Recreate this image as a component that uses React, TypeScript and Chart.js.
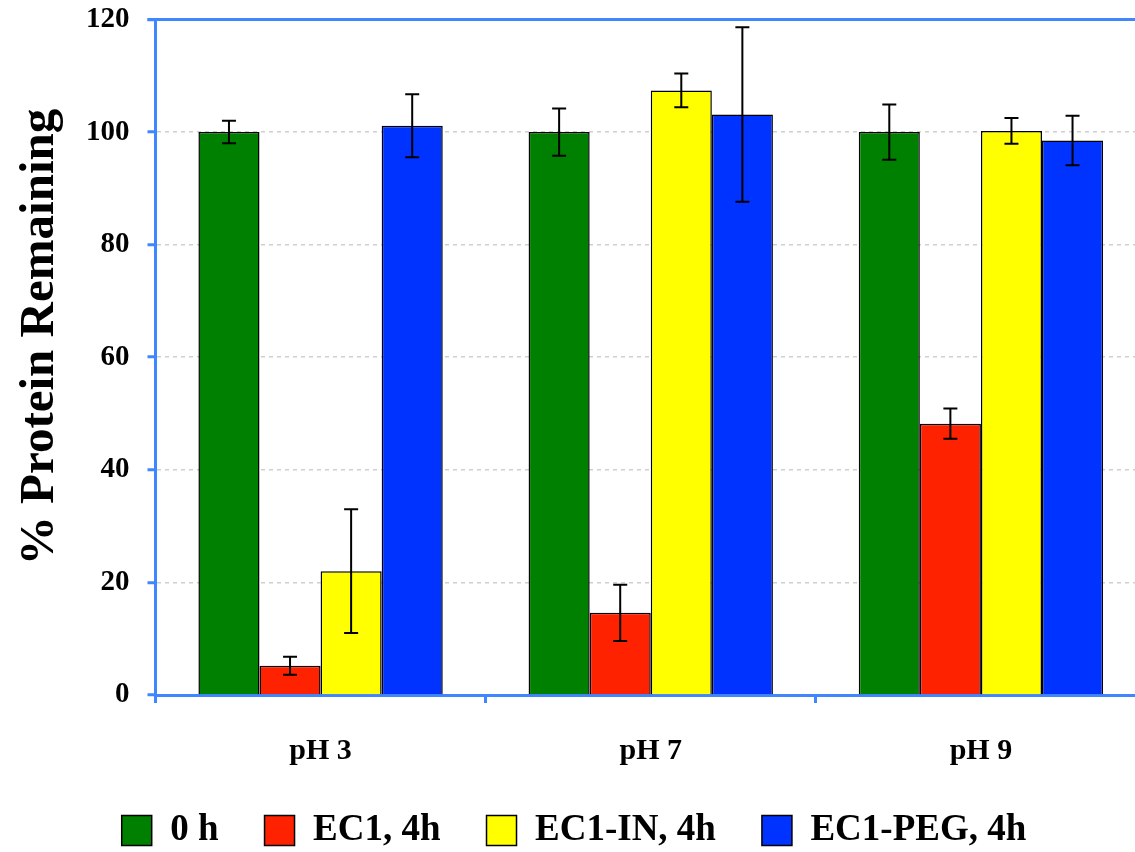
import React, { useEffect, useRef } from "react";
import { Chart, registerables } from "chart.js";

Chart.register(...registerables);

const categories = ["pH 3", "pH 7", "pH 9"];
const seriesLabels = ["0 h", "EC1, 4h", "EC1-IN, 4h", "EC1-PEG, 4h"];
const values0h = [100, 100, 100];
const valuesEC1 = [5.2, 14.6, 48.2];
const valuesEC1IN = [22, 107.4, 100.2];
const valuesEC1PEG = [101.1, 103.1, 98.5];
const err0h = [2, 4.2, 4.9];
const errEC1 = [1.6, 5, 2.7];
const errEC1IN = [11, 3, 2.3];
const errEC1PEG = [5.6, 15.5, 4.4];
const yTicks = [0, 20, 40, 60, 80, 100, 120];
const yTitle = "% Protein Remaining";

const colors = ["#008000", "#ff2200", "#ffff00", "#0033ff"];
const AXIS_BLUE = "#3f86ff";
const FONT = "'Liberation Serif', 'Times New Roman', serif";

const allValues = [values0h, valuesEC1, valuesEC1IN, valuesEC1PEG];
const allErrors = [err0h, errEC1, errEC1IN, errEC1PEG];

const errorBarPlugin = {
  id: "errorBars",
  afterDatasetsDraw(chart: any) {
    const ctx = chart.ctx;
    const y = chart.scales.y;
    ctx.save();
    ctx.strokeStyle = "#000";
    ctx.lineWidth = 2;
    chart.data.datasets.forEach((ds: any, i: number) => {
      const meta = chart.getDatasetMeta(i);
      meta.data.forEach((bar: any, j: number) => {
        const v = ds.data[j];
        const e = ds.errors[j];
        const yTop = y.getPixelForValue(v + e);
        const yBot = y.getPixelForValue(v - e);
        const x = bar.x;
        const cap = 7;
        ctx.beginPath();
        ctx.moveTo(x, yTop);
        ctx.lineTo(x, yBot);
        ctx.moveTo(x - cap, yTop);
        ctx.lineTo(x + cap, yTop);
        ctx.moveTo(x - cap, yBot);
        ctx.lineTo(x + cap, yBot);
        ctx.stroke();
      });
    });
    ctx.restore();
  },
};

const frameTopPlugin = {
  id: "frameTop",
  afterDraw(chart: any) {
    const ctx = chart.ctx;
    const y = chart.scales.y;
    const top = y.getPixelForValue(120);
    ctx.save();
    ctx.strokeStyle = AXIS_BLUE;
    ctx.lineWidth = 3;
    ctx.beginPath();
    ctx.moveTo(chart.chartArea.left - 8, top);
    ctx.lineTo(chart.chartArea.right, top);
    ctx.stroke();
    ctx.restore();
  },
};

const yTitlePlugin = {
  id: "yTitle",
  afterDraw(chart: any) {
    const ctx = chart.ctx;
    const y = chart.scales.y;
    const centerY = y.getPixelForValue(120) + (y.getPixelForValue(0) - y.getPixelForValue(120)) * 0.47;
    ctx.save();
    ctx.translate(53, centerY);
    ctx.rotate(-Math.PI / 2);
    ctx.font = `bold 49px ${FONT}`;
    ctx.fillStyle = "#000";
    ctx.textAlign = "center";
    ctx.textBaseline = "alphabetic";
    ctx.fillText(yTitle, 0, 0);
    ctx.restore();
  },
};

export default function App() {
  const ref = useRef<HTMLCanvasElement | null>(null);
  useEffect(() => {
    if (!ref.current) return;
    const chart = new Chart(ref.current, {
      type: "bar",
      data: {
        labels: categories,
        datasets: seriesLabels.map((label, i) => ({
          label,
          data: allValues[i],
          errors: allErrors[i],
          backgroundColor: colors[i],
          borderColor: "#000",
          borderWidth: 1.5,
          categoryPercentage: 0.74,
          barPercentage: 1,
        })) as any,
      },
      options: {
        responsive: false,
        animation: false,
        layout: { padding: { top: 0, left: 2, right: 0, bottom: 0 } },
        plugins: {
          tooltip: { enabled: false },
          legend: {
            position: "bottom",
            maxHeight: 86,
            labels: {
              font: { family: FONT, size: 37, weight: "bold" },
              color: "#000",
              boxWidth: 30,
              boxHeight: 30,
              padding: 46,
            },
          },
        },
        scales: {
          x: {
            offset: true,
            afterFit(scale: any) {
              scale.height -= 33;
            },
            grid: {
              offset: true,
              drawOnChartArea: false,
              drawTicks: true,
              tickLength: 8,
              tickColor: AXIS_BLUE,
              tickWidth: 3,
            },
            border: { color: AXIS_BLUE, width: 3 },
            ticks: {
              font: { family: FONT, size: 30, weight: "bold" },
              color: "#000",
              padding: 30,
            },
          },
          y: {
            min: 0,
            max: 120,
            afterBuildTicks(scale: any) {
              scale.ticks = yTicks.map((v) => ({ value: v }));
            },
            afterFit(scale: any) {
              scale.width += 66;
            },
            grid: {
              color: "#cfcfcf",
              lineWidth: 1.5,
              tickLength: 8,
              tickColor: AXIS_BLUE,
              tickWidth: 3,
            },
            border: { color: AXIS_BLUE, width: 3, dash: [4, 4] },
            ticks: {
              font: { family: FONT, size: 29, weight: "bold", lineHeight: 0.1 },
              color: "#000",
              padding: 18,
            },
          },
        },
      },
      plugins: [errorBarPlugin, frameTopPlugin, yTitlePlugin],
    });
    return () => chart.destroy();
  }, []);
  return (
    <div
      style={{
        position: "fixed",
        left: 0,
        top: 0,
        width: 1135,
        height: 852,
        overflow: "hidden",
        background: "#fff",
      }}
    >
      <canvas ref={ref} width={1146} height={852} />
    </div>
  );
}
